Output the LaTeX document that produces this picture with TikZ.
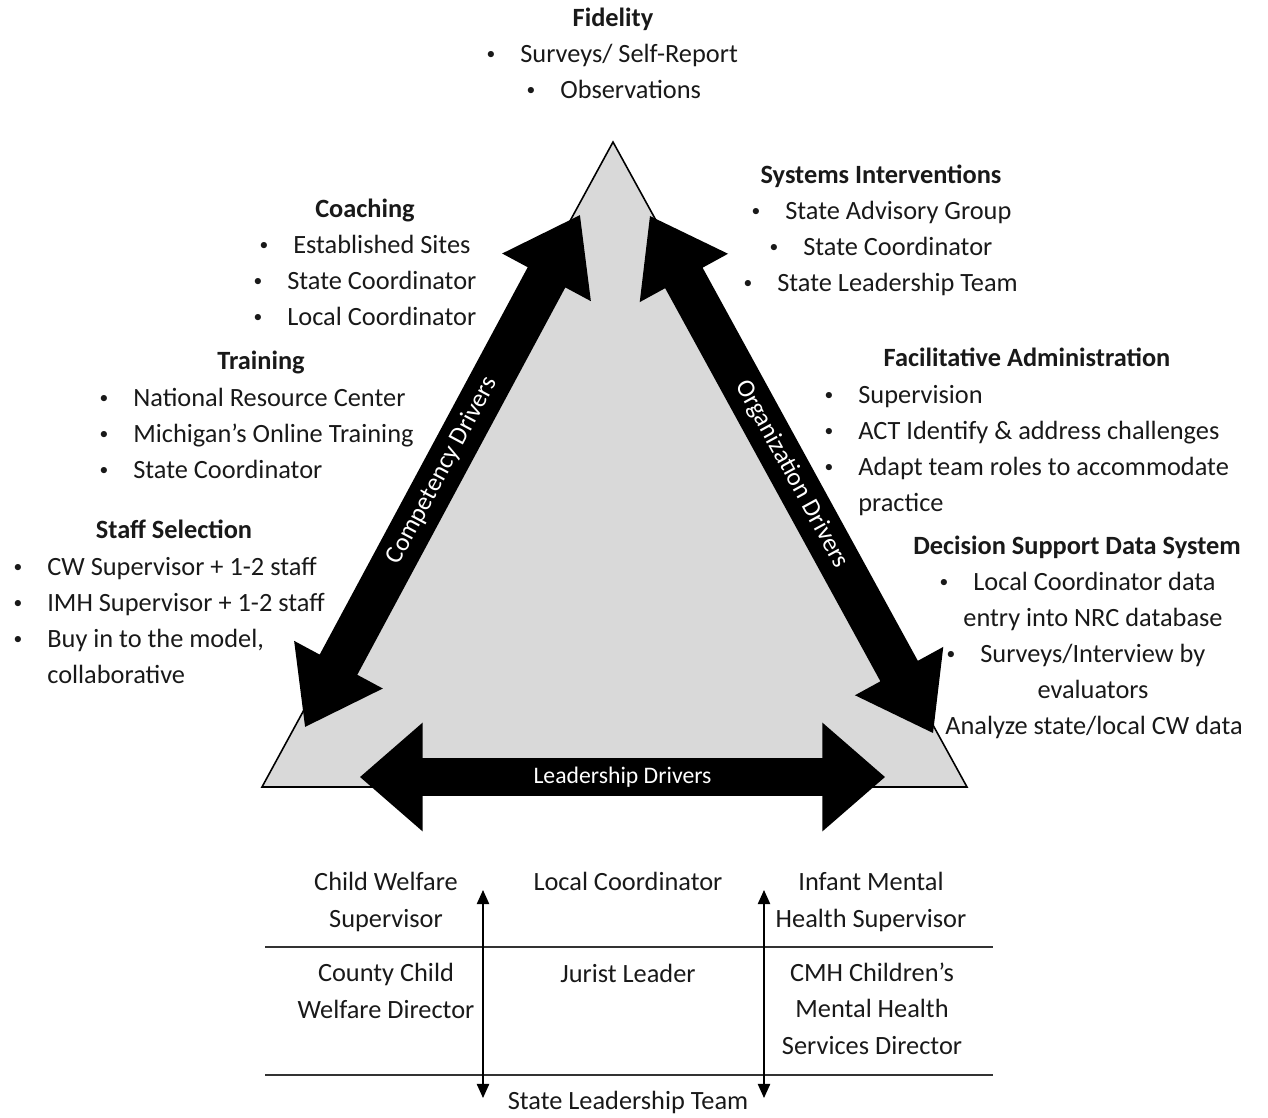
\documentclass[tikz,border=0pt]{standalone}
\usepackage{fontspec}
\setmainfont{Carlito}
\usetikzlibrary{shapes.arrows,arrows.meta}

\definecolor{trigray}{RGB}{217,217,217}
\newcommand{\bul}{\llap{\raisebox{1.6pt}{\fontsize{10}{10}\selectfont\textbullet}\hspace{0.95em}}}

\tikzset{
  txt/.style={inner sep=0pt, text=black!90, font=\fontsize{15}{20.7}\selectfont},
  head/.style={txt, anchor=base, font=\fontsize{15}{20.7}\selectfont\bfseries},
  item/.style={txt, anchor=base west},
  cell/.style={txt, anchor=base, align=center},
  driver/.style={double arrow, fill=black, text=white, font=\fontsize{13.5}{16}\selectfont,
    text height=10pt, text depth=3pt, inner xsep=0pt},
  sidedriver/.style={driver, font=\fontsize{14.5}{16}\selectfont, inner ysep=5.45pt,
    double arrow head extend=0.58cm, double arrow tip angle=71},
  rule/.style={draw=black!80, line width=1.6pt},
  link/.style={line width=0.8pt, {Triangle[length=8pt,width=7pt]}-{Triangle[length=8pt,width=7pt]}}
}

\begin{document}
\begin{tikzpicture}[x=0.02cm, y=-0.02cm]
  \useasboundingbox (0,0) rectangle (1268,1117);

  % Triangle
  \coordinate (apex) at (613,142);
  \coordinate (bl) at (262,787);
  \coordinate (br) at (967,787);
  \draw[fill=trigray, line width=0.9pt] (apex) -- (bl) -- (br) -- cycle;

  % Driver arrows
  \node[sidedriver, minimum height=11.62cm, rotate=61.76] (comp) at (442.5,471) {Competency Drivers};
  \node[sidedriver, minimum height=11.79cm, rotate=-61.3] (org) at (791.5,474.5) {Organization Drivers};
  \node[driver, minimum height=10.5cm, inner ysep=4pt, double arrow head extend=0.71cm,
    double arrow tip angle=82] (lead) at (622.5,777) {Leadership Drivers};

  % Fidelity
  \node[head] (fid) at (613,26) {Fidelity};
  \node[item] (fid1) at (520,62) {\bul Surveys/ Self-Report};
  \node[item] (fid2) at (560,98) {\bul Observations};

  % Systems interventions
  \node[head] (sys) at (881,183) {Systems Interventions};
  \node[item] (sys1) at (785,219) {\bul State Advisory Group};
  \node[item] (sys2) at (803,255) {\bul State Coordinator};
  \node[item] (sys3) at (777,291) {\bul State Leadership Team};

  % Coaching
  \node[head] (coach) at (365,217) {Coaching};
  \node[item] (coach1) at (293,253) {\bul Established Sites};
  \node[item] (coach2) at (287,289) {\bul State Coordinator};
  \node[item] (coach3) at (287,325) {\bul Local Coordinator};

  % Training
  \node[head] (train) at (261,369) {Training};
  \node[item] (train1) at (133,406) {\bul National Resource Center};
  \node[item] (train2) at (133,442) {\bul Michigan’s Online Training};
  \node[item] (train3) at (133,478) {\bul State Coordinator};

  % Staff selection
  \node[head] (staff) at (174,538) {Staff Selection};
  \node[item] (staff1) at (47,575) {\bul CW Supervisor + 1-2 staff};
  \node[item] (staff2) at (47,611) {\bul IMH Supervisor + 1-2 staff};
  \node[item] (staff3) at (47,647) {\bul Buy in to the model,};
  \node[item] (staff4) at (47,683) {collaborative};

  % Facilitative administration
  \node[head] (fac) at (1027,366) {Facilitative Administration};
  \node[item] (fac1) at (858,403) {\bul Supervision};
  \node[item] (fac2) at (858,439) {\bul ACT Identify \& address challenges};
  \node[item] (fac3) at (858,475) {\bul Adapt team roles to accommodate};
  \node[item] (fac4) at (858,511) {practice};

  % Decision support
  \node[head] (dss) at (1077,554) {Decision Support Data System};
  \node[item] (dss1) at (973,590) {\bul Local Coordinator data};
  \node[cell] (dss2) at (1093,626) {entry into NRC database};
  \node[item] (dss3) at (980,662) {\bul Surveys/Interview by};
  \node[cell] (dss4) at (1093,698) {evaluators};
  \node[cell] (dss5) at (1094,734) {Analyze state/local CW data};

  % Leadership table
  \coordinate (r1a) at (265,947);
  \coordinate (r1b) at (993,947);
  \coordinate (r2a) at (265,1075);
  \coordinate (r2b) at (993,1075);
  \draw[rule] (r1a) -- (r1b);
  \draw[rule] (r2a) -- (r2b);

  \node[cell] (cws) at (386,927) {Child Welfare\\Supervisor};
  \node[cell] (lc) at (628,890) {Local Coordinator};
  \node[cell] (imh) at (871,927) {Infant Mental\\Health Supervisor};
  \node[cell] (ccw) at (386,1018) {County Child\\Welfare Director};
  \node[cell] (jl) at (628,982) {Jurist Leader};
  \node[cell] (cmh) at (872,1054) {CMH Children’s\\Mental Health\\Services Director};
  \node[cell] (slt) at (628,1109) {State Leadership Team};

  % Vertical links
  \coordinate (la) at (483,890);
  \coordinate (lb) at (483,1098);
  \coordinate (ra) at (764,890);
  \coordinate (rb) at (764,1098);
  \draw[link] (la) -- (lb);
  \draw[link] (ra) -- (rb);

\end{tikzpicture}
\end{document}
